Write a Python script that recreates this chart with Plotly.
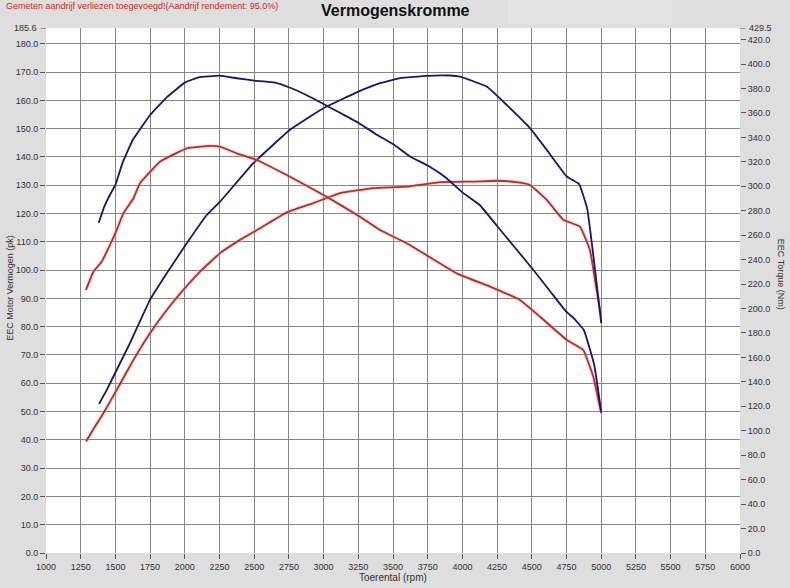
import plotly.graph_objects as go

# ---- data ----
rpm_blue_torque = [1380, 1420, 1460, 1500, 1550, 1625, 1750, 1875, 2000, 2100, 2250, 2375, 2500,
                   2650, 2750, 2875, 3000, 3125, 3250, 3375, 3500, 3625, 3750, 3875, 4000, 4125,
                   4250, 4375, 4500, 4625, 4750, 4800, 4875, 4950, 5000]
blue_torque_nm = [270.2, 283.3, 292.9, 301.1, 318.8, 337.9, 358.3, 373.3, 384.8, 389.2, 390.5, 388.4,
                  386.4, 384.8, 381.0, 374.7, 367.3, 359.7, 352.0, 342.8, 334.5, 324.2, 317.0, 307.6,
                  295.0, 284.7, 267.5, 250.3, 233.2, 215.2, 197.2, 192.3, 182.4, 153.8, 115.4]

rpm_blue_power = [1382, 1437, 1509, 1605, 1749, 1870, 2014, 2158, 2254, 2494, 2758, 2998, 3250, 3406,
                  3551, 3743, 3911, 3983, 4175, 4319, 4487, 4608, 4752, 4840, 4898, 4943, 5000]
blue_power_pk = [52.7, 57.6, 64.7, 74.2, 89.5, 98.9, 109.5, 119.5, 124.2, 137.8, 149.6, 157.2, 163.1,
                 166.1, 167.9, 168.7, 168.8, 168.4, 164.9, 158.4, 150.2, 142.5, 133.1, 130.5, 122.0,
                 105.4, 81.3]

rpm_red_torque = [1288, 1341, 1401, 1461, 1509, 1557, 1629, 1677, 1821, 2014, 2182, 2254, 2374, 2518,
                  2734, 3022, 3262, 3406, 3599, 3959, 4199, 4415, 4559, 4752, 4871, 4943, 5000]
red_torque_nm = [215.2, 230.1, 238.3, 252.0, 264.2, 277.9, 290.0, 302.5, 320.1, 331.1, 333.0, 332.4,
                 327.0, 321.5, 309.2, 291.5, 275.1, 264.2, 253.4, 228.8, 217.9, 207.0, 193.3, 174.3,
                 166.1, 144.2, 114.3]

rpm_red_power = [1288, 1353, 1413, 1509, 1629, 1749, 1870, 1989, 2110, 2254, 2398, 2542, 2734, 2926,
                 3118, 3358, 3599, 3839, 4079, 4247, 4391, 4487, 4608, 4727, 4847, 4919, 4967, 4995]
red_power_pk = [39.4, 44.7, 49.4, 57.6, 68.2, 77.7, 85.9, 93.0, 99.5, 106.0, 110.7, 114.8, 120.4,
                123.7, 127.2, 129.0, 129.5, 131.1, 131.3, 131.6, 131.1, 130.1, 124.8, 117.8, 115.4,
                107.1, 93.0, 84.8]

x_ticks = list(range(1000, 6001, 250))
power_ticks = list(range(0, 181, 10))
torque_ticks = list(range(0, 421, 20))
power_max = 185.6
torque_max = 429.5

BLUE = "#16166e"
RED = "#b0302a"
HALO = "rgba(255,160,160,0.35)"
FONT = "Liberation Sans, Arial, sans-serif"

fig = go.Figure()


def add_curve(x, y, color, axis, halo=None):
    if halo:
        fig.add_trace(go.Scatter(x=x, y=y, mode="lines", yaxis=axis, hoverinfo="skip",
                                 line=dict(color=halo, width=4, shape="spline", smoothing=0.3),
                                 showlegend=False))
    fig.add_trace(go.Scatter(x=x, y=y, mode="lines", yaxis=axis,
                             line=dict(color=color, width=1.8, shape="spline", smoothing=0.3),
                             showlegend=False))


add_curve(rpm_red_power, red_power_pk, RED, "y", HALO)
add_curve(rpm_red_torque, red_torque_nm, RED, "y2", HALO)
add_curve(rpm_blue_power, blue_power_pk, BLUE, "y")
add_curve(rpm_blue_torque, blue_torque_nm, BLUE, "y2")

tickfont = dict(family=FONT, size=9, color="#333333")

fig.update_layout(
    width=790, height=588, autosize=False,
    margin=dict(l=46, r=50, t=28, b=35),
    paper_bgcolor="#dedede", plot_bgcolor="white",
    font=dict(family=FONT),
    xaxis=dict(range=[1000, 6000], tickvals=x_ticks, ticktext=[str(v) for v in x_ticks],
               ticks="outside", ticklen=5, tickcolor="#555", gridcolor="#858585", gridwidth=1,
               zeroline=False, showline=False, tickfont=tickfont, fixedrange=True),
    yaxis=dict(range=[0, power_max], tickvals=power_ticks,
               ticktext=[f"{v:.1f}" for v in power_ticks],
               ticks="outside", ticklen=5, tickcolor="#555", gridcolor="#858585", gridwidth=1,
               zeroline=False, showline=False, tickfont=tickfont),
    yaxis2=dict(range=[0, torque_max], tickvals=torque_ticks,
                ticktext=[f"{v:.1f}" for v in torque_ticks], overlaying="y", side="right",
                ticks="outside", ticklen=5, tickcolor="#555", showgrid=False, zeroline=False,
                showline=False, tickfont=tickfont),
)

# box at top right
fig.add_shape(type="rect", xref="paper", yref="paper", x0=0.6657, x1=0.902, y0=1.0076, y1=1.06,
              fillcolor="#e6e3e6", line=dict(width=0), layer="below")
# top tick marks for axis maxima
fig.add_shape(type="line", xref="paper", yref="y", x0=-0.0075, x1=0, y0=power_max, y1=power_max,
              line=dict(color="#555", width=1))
fig.add_shape(type="line", xref="paper", yref="y", x0=1, x1=1.0075, y0=power_max, y1=power_max,
              line=dict(color="#555", width=1))

ann = [
    dict(text="<b>Vermogenskromme</b>", x=0.504, y=1.034, font=dict(size=16, color="#111"),
         xanchor="center", yanchor="middle"),
    dict(text="Gemeten aandrijf verliezen toegevoegd!(Aandrijf rendement: 95.0%)", x=-0.0605,
         y=1.042, font=dict(size=9, color="#cc2a2a"), xanchor="left", yanchor="middle"),
    dict(text="EEC Motor Vermogen (pk)", x=-0.0519, y=0.505, textangle=-90,
         font=dict(size=9, color="#333"), xanchor="center", yanchor="middle"),
    dict(text="EEC Torque (Nm)", x=1.059, y=0.53, textangle=90,
         font=dict(size=9, color="#333"), xanchor="center", yanchor="middle"),
    dict(text="Toerental (rpm)", x=0.5, y=-0.0476, font=dict(size=10, color="#333"),
         xanchor="center", yanchor="middle"),
    dict(text=f"{power_max:.1f}", x=-0.0105, y=1.0, font=tickfont, xanchor="right",
         yanchor="middle"),
    dict(text=f"{torque_max:.1f}", x=1.0105, y=1.0, font=tickfont, xanchor="left",
         yanchor="middle"),
]
for a in ann:
    fig.add_annotation(xref="paper", yref="paper", showarrow=False, **a)

fig.write_html("out.html", config={"displayModeBar": False},
               post_script="document.body.style.margin='0';")
